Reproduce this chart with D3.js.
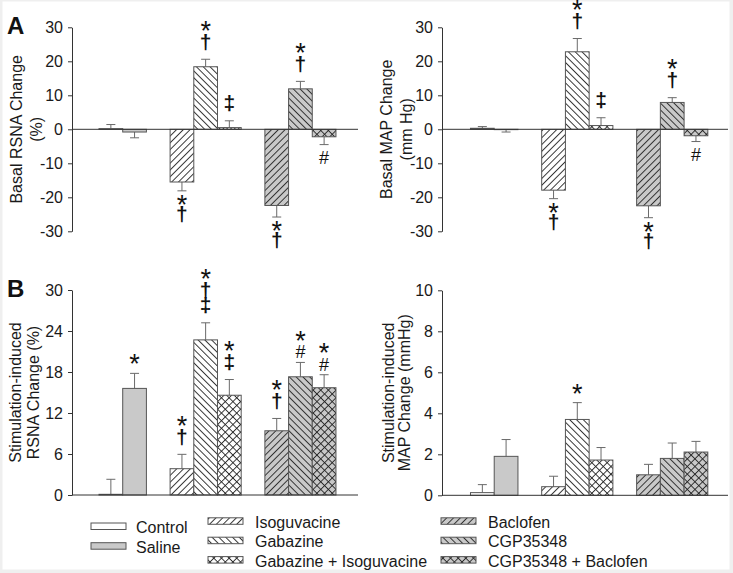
<!DOCTYPE html>
<html>
<head>
<meta charset="utf-8">
<script src="https://cdn.jsdelivr.net/npm/d3@7/dist/d3.min.js"></script>
<style>
  html, body { margin: 0; padding: 0; background: #efefef; }
  svg { display: block; font-family: "Liberation Sans", Arial, sans-serif; }
</style>
</head>
<body>
<svg id="chart" width="733" height="573"></svg>
<script>
// ---------------- DATA ----------------
const categories = ["Control", "Saline", "Isoguvacine", "Gabazine", "Gabazine + Isoguvacine",
                    "Baclofen", "CGP35348", "CGP35348 + Baclofen"];
const groups = [["Control", "Saline"],
                ["Isoguvacine", "Gabazine", "Gabazine + Isoguvacine"],
                ["Baclofen", "CGP35348", "CGP35348 + Baclofen"]];

const basalRSNA    = [0.2, -0.8, -15.5, 18.4, 0.5, -22.4, 11.9, -2.2];
const basalRSNAErr = [1.2, 1.7, 2.6, 2.2, 2.0, 3.4, 2.2, 2.3];
const basalRSNASig = [[], [], ["*", "†"], ["*", "†"], ["‡"], ["*", "†"], ["*", "†"], ["#"]];

const basalMAP     = [0.3, -0.1, -17.9, 22.8, 1.1, -22.5, 7.9, -1.9];
const basalMAPErr  = [0.5, 0.7, 2.5, 3.9, 2.3, 3.5, 1.4, 1.7];
const basalMAPSig  = [[], [], ["*", "†"], ["*", "†"], ["‡"], ["*", "†"], ["*", "†"], ["#"]];

const stimRSNA     = [0.1, 15.6, 3.85, 22.7, 14.6, 9.4, 17.3, 15.7];
const stimRSNAErr  = [2.2, 2.2, 2.1, 2.5, 2.3, 1.8, 2.1, 1.9];
const stimRSNASig  = [[], ["*"], ["*", "†"], ["*", "†", "‡"], ["*", "‡"], ["*", "†"], ["*", "#"], ["*", "#"]];

const stimMAP      = [0.13, 1.9, 0.42, 3.7, 1.72, 1.0, 1.8, 2.11];
const stimMAPErr   = [0.39, 0.82, 0.51, 0.82, 0.61, 0.51, 0.75, 0.52];
const stimMAPSig   = [[], [], [], ["*"], [], [], [], []];

const ticksBasal     = [-30, -20, -10, 0, 10, 20, 30];
const ticksStimRSNA  = [0, 6, 12, 18, 24, 30];
const ticksStimMAP   = [0, 2, 4, 6, 8, 10];

const labelBasalRSNA = ["Basal RSNA Change", "(%)"];
const labelBasalMAP  = ["Basal MAP Change", "(mm Hg)"];
const labelStimRSNA  = ["Stimulation-induced", "RSNA Change (%)"];
const labelStimMAP   = ["Stimulation-induced", "MAP Change (mmHg)"];

// ---------------- STYLE ----------------
const GRAY = "#c9c9c9";
const fills = {
  "Control": "url(#solid-white)",
  "Saline": "url(#solid-gray)",
  "Isoguvacine": "url(#fwd-white)",
  "Gabazine": "url(#back-white)",
  "Gabazine + Isoguvacine": "url(#cross-white)",
  "Baclofen": "url(#fwd-gray)",
  "CGP35348": "url(#back-gray)",
  "CGP35348 + Baclofen": "url(#cross-gray)"
};

// slot index for each category (one blank slot between groups)
const slotOf = {};
{
  let s = 0;
  groups.forEach(g => { g.forEach(c => { slotOf[c] = s++; }); s += 1; });
}

const svg = d3.select("#chart");
svg.append("rect").attr("x", 2.5).attr("y", 1.5).attr("width", 727).attr("height", 568).attr("fill", "#ffffff");

// patterns
const defs = svg.append("defs");
function solid(id, color) {
  const p = defs.append("pattern").attr("id", id).attr("patternUnits", "userSpaceOnUse")
    .attr("width", 4).attr("height", 4);
  p.append("rect").attr("width", 4).attr("height", 4).attr("fill", color);
}
function hatch(id, bg, angle, sp) {
  const p = defs.append("pattern").attr("id", id).attr("patternUnits", "userSpaceOnUse")
    .attr("width", sp).attr("height", sp).attr("patternTransform", `rotate(${angle})`);
  p.append("rect").attr("width", sp).attr("height", sp).attr("fill", bg);
  p.append("line").attr("x1", 0.5).attr("y1", 0).attr("x2", 0.5).attr("y2", sp)
    .attr("stroke", "#222").attr("stroke-width", 0.9);
}
function cross(id, bg, sp) {
  const p = defs.append("pattern").attr("id", id).attr("patternUnits", "userSpaceOnUse")
    .attr("width", sp).attr("height", sp).attr("patternTransform", "rotate(45)");
  p.append("rect").attr("width", sp).attr("height", sp).attr("fill", bg);
  p.append("line").attr("x1", 0.5).attr("y1", 0).attr("x2", 0.5).attr("y2", sp)
    .attr("stroke", "#222").attr("stroke-width", 0.9);
  p.append("line").attr("x1", 0).attr("y1", 0.5).attr("x2", sp).attr("y2", 0.5)
    .attr("stroke", "#222").attr("stroke-width", 0.9);
}
solid("solid-white", "#ffffff");
solid("solid-gray", GRAY);
hatch("fwd-white", "#ffffff", 45, 4.8);
hatch("back-white", "#ffffff", -45, 4.8);
cross("cross-white", "#ffffff", 5.4);
hatch("fwd-gray", GRAY, 45, 4.8);
hatch("back-gray", GRAY, -45, 4.8);
cross("cross-gray", GRAY, 5.4);

// symbol vertical metrics (baseline shift so the ink centre lands on target)
const symInfo = {
  "*": { size: 27, weight: "normal", k: 0.44 },
  "†": { size: 21, weight: "bold", k: 0.26 },
  "‡": { size: 21, weight: "bold", k: 0.26 },
  "#": { size: 18, weight: "normal", k: 0.36 }
};

function panel(opt) {
  const g = svg.append("g");
  const x = d3.scaleLinear().domain(opt.xDomain).range([opt.left, opt.right]);
  const y = d3.scaleLinear().domain(opt.yDomain).range([opt.bottom, opt.top]);
  const bw = x(1) - x(0);

  // y axis
  const ax = g.append("g").attr("transform", `translate(${opt.left},0)`)
    .call(d3.axisLeft(y).tickValues(opt.ticks).tickFormat(d => String(d)).tickSize(4).tickPadding(5).tickSizeOuter(0));
  ax.select(".domain").attr("stroke", "#333");
  ax.selectAll(".tick line").attr("stroke", "#333");
  ax.selectAll(".tick text").attr("font-size", 16).attr("fill", "#1a1a1a")
    .attr("font-family", "'Liberation Sans', Arial, sans-serif");

  const data = categories.map((c, i) => ({ c, v: opt.values[i], e: opt.errs[i], s: opt.sig[i] }));

  // error bars
  const eg = g.append("g").attr("stroke", "#6a6a6a").attr("stroke-width", 1);
  data.forEach(d => {
    const cx = x(slotOf[d.c]) + bw / 2;
    const end = d.v >= 0 ? d.v + d.e : d.v - d.e;
    eg.append("line").attr("x1", cx).attr("x2", cx).attr("y1", y(d.v)).attr("y2", y(end));
    eg.append("line").attr("x1", cx - 4.5).attr("x2", cx + 4.5).attr("y1", y(end)).attr("y2", y(end));
  });

  // bars
  g.append("g").selectAll("rect").data(data).join("rect")
    .attr("x", d => x(slotOf[d.c]))
    .attr("width", bw)
    .attr("y", d => y(Math.max(0, d.v)))
    .attr("height", d => Math.abs(y(d.v) - y(0)))
    .attr("fill", d => fills[d.c])
    .attr("stroke", "#555")
    .attr("stroke-width", 1);

  // zero line
  g.append("line").attr("x1", opt.left).attr("x2", opt.right)
    .attr("y1", y(0)).attr("y2", y(0)).attr("stroke", "#333").attr("stroke-width", 1);

  // significance symbols: one text element per stack
  data.forEach(d => {
    if (!d.s.length) return;
    const cx = x(slotOf[d.c]) + bw / 2;
    const up = d.v >= 0;
    const end = y(up ? d.v + d.e : d.v - d.e);
    const n = d.s.length;
    const t = g.append("text").attr("text-anchor", "middle").attr("fill", "#111");
    d.s.forEach((sym, j) => {
      let c;
      if (up) {
        const near = d.s[n - 1];
        const first = near === "#" ? 10.5 : (near === "*" ? 12 : 16);
        const step = near === "#" ? 14 : 15.5;
        c = end - first - (n - 1 - j) * step;
      } else {
        const first = d.s[0] === "#" ? 12.5 : 11.5;
        c = end + first + j * 13.5;
      }
      const info = symInfo[sym];
      t.append("tspan").attr("x", cx).attr("y", c + info.k * info.size)
        .attr("font-size", info.size).attr("font-weight", info.weight).text(sym);
    });
  });

  // y label
  const lab = g.append("g").attr("font-size", 16).attr("fill", "#1a1a1a").attr("text-anchor", "middle");
  opt.label.forEach((t, i) => {
    const bx = opt.labelX[i], cy = (opt.top + opt.bottom) / 2;
    lab.append("text").attr("transform", `translate(${bx},${cy}) rotate(-90)`).text(t);
  });
}

panel({ left: 72, right: 358, top: 27.3, bottom: 231.3, xDomain: [-1.14, 10.93], yDomain: [-30, 30],
        ticks: ticksBasal, values: basalRSNA, errs: basalRSNAErr, sig: basalRSNASig,
        label: labelBasalRSNA, labelX: [22, 42] });
panel({ left: 442, right: 728, top: 27.3, bottom: 231.3, xDomain: [-1.2, 10.85], yDomain: [-30, 30],
        ticks: ticksBasal, values: basalMAP, errs: basalMAPErr, sig: basalMAPSig,
        label: labelBasalMAP, labelX: [391.5, 411.5] });
panel({ left: 72, right: 358, top: 290, bottom: 495, xDomain: [-1.14, 10.93], yDomain: [0, 30],
        ticks: ticksStimRSNA, values: stimRSNA, errs: stimRSNAErr, sig: stimRSNASig,
        label: labelStimRSNA, labelX: [21, 39] });
panel({ left: 442, right: 728, top: 290.3, bottom: 495.3, xDomain: [-1.2, 10.85], yDomain: [0, 10],
        ticks: ticksStimMAP, values: stimMAP, errs: stimMAPErr, sig: stimMAPSig,
        label: labelStimMAP, labelX: [394, 409.5] });

// panel letters
svg.append("text").attr("x", 7).attr("y", 34.3).attr("font-size", 24).attr("font-weight", "bold").attr("fill", "#111").text("A");
svg.append("text").attr("x", 7).attr("y", 297).attr("font-size", 24).attr("font-weight", "bold").attr("fill", "#111").text("B");

// legend
const legendCols = [
  { sx: 91, tx: 136, base: [533, 552.7], items: groups[0] },
  { sx: 208, tx: 255, base: [527.8, 547.2, 566.6], items: groups[1] },
  { sx: 441, tx: 488, base: [527.8, 547.2, 566.6], items: groups[2] }
];
const lg = svg.append("g");
legendCols.forEach(col => {
  col.items.forEach((c, i) => {
    const b = col.base[i];
    lg.append("rect").attr("x", col.sx).attr("y", b - 10).attr("width", 35).attr("height", 6.5)
      .attr("fill", fills[c]).attr("stroke", "#555").attr("stroke-width", 1);
    lg.append("text").attr("x", col.tx).attr("y", b).attr("font-size", 16).attr("fill", "#1a1a1a").text(c);
  });
});
</script>
</body>
</html>
